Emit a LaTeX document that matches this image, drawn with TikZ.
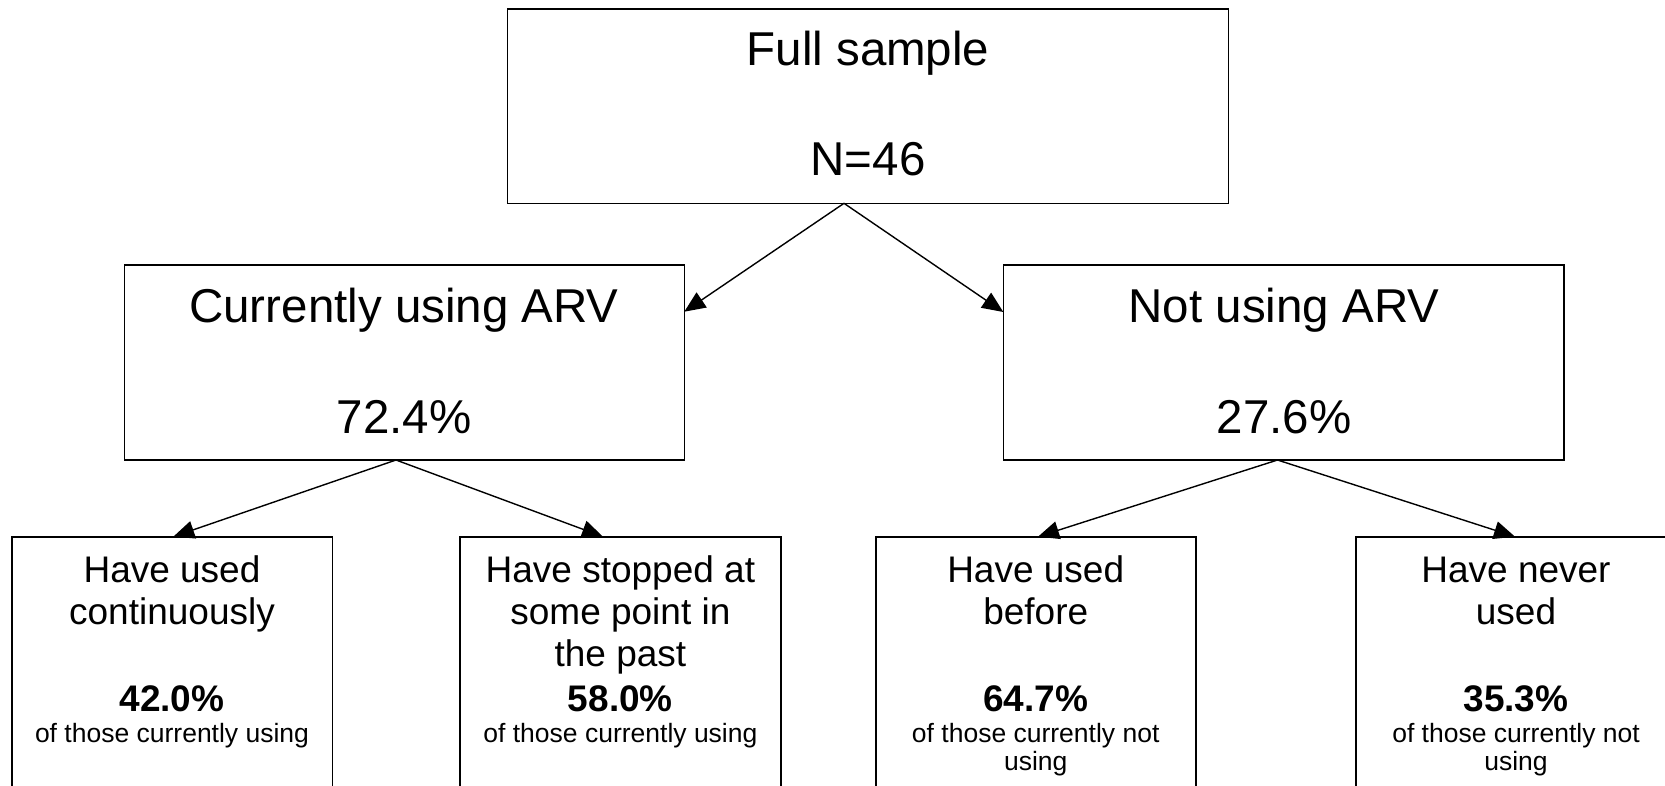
\documentclass[tikz,border=0pt]{standalone}
\usepackage{fontspec}
\setmainfont{Liberation Sans}
\usetikzlibrary{arrows.meta}

\tikzset{
  box/.style={draw=black, line width=1.6pt, fill=none, inner sep=0pt, rectangle},
  link/.style={line width=1.4pt, -{Triangle[length=21pt,width=18pt]}},
  bigtxt/.style={anchor=base, inner sep=0pt, font=\fontsize{47.5}{50}\selectfont},
  midtxt/.style={anchor=base, inner sep=0pt, font=\fontsize{37}{40}\selectfont},
  pcttxt/.style={anchor=base, inner sep=0pt, font=\fontsize{37}{40}\selectfont\bfseries},
  smalltxt/.style={anchor=base, inner sep=0pt, font=\fontsize{26.5}{28}\selectfont},
}

\begin{document}
\begin{tikzpicture}[x=1pt, y=-1pt]
\useasboundingbox (0,0) rectangle (1665,785);
\clip (0,0) rectangle (1665,785);

% ---- boxes ----
\node[box, minimum width=721pt, minimum height=194.3pt] (top) at (868.1,106.2) {};
\node[box, minimum width=560pt, minimum height=195pt] (cur) at (404.35,362.5) {};
\node[box, minimum width=560.7pt, minimum height=195pt] (not) at (1283.65,362.5) {};
\node[box, minimum width=320.6pt, minimum height=400pt] (cont) at (172,736.7) {};
\node[box, minimum width=320.7pt, minimum height=400pt] (stop) at (620.35,736.7) {};
\node[box, minimum width=320pt, minimum height=400pt] (before) at (1035.7,736.7) {};
\node[box, minimum width=320pt, minimum height=400pt] (never) at (1516,736.7) {};

% ---- text ----
\node[bigtxt] (t-full) at (868,65) {Full sample};
\node[bigtxt] (t-n) at (868,175) {N=46};

\node[bigtxt] (t-cur) at (404,322) {Currently using ARV};
\node[bigtxt] (t-curp) at (404,433) {72.4\%};
\node[bigtxt] (t-not) at (1284,322) {Not using ARV};
\node[bigtxt] (t-notp) at (1284,433) {27.6\%};

\node[midtxt] (c1) at (172,582.7) {Have used};
\node[midtxt] (c2) at (172,624.7) {continuously};
\node[pcttxt] (c3) at (172,711.7) {42.0\%};
\node[smalltxt] (c4) at (172,742) {of those currently using};

\node[midtxt] (s1) at (620.4,582.7) {Have stopped at};
\node[midtxt] (s2) at (620.4,624.7) {some point in};
\node[midtxt] (s3) at (620.4,666.7) {the past};
\node[pcttxt] (s4) at (620.4,711.7) {58.0\%};
\node[smalltxt] (s5) at (620.4,742) {of those currently using};

\node[midtxt] (b1) at (1035.7,582.7) {Have used};
\node[midtxt] (b2) at (1035.7,624.7) {before};
\node[pcttxt] (b3) at (1035.7,711.7) {64.7\%};
\node[smalltxt] (b4) at (1035.7,742) {of those currently not};
\node[smalltxt] (b5) at (1035.7,770.5) {using};

\node[midtxt] (n1) at (1516,582.7) {Have never};
\node[midtxt] (n2) at (1516,624.7) {used};
\node[pcttxt] (n3) at (1516,711.7) {35.3\%};
\node[smalltxt] (n4) at (1516,742) {of those currently not};
\node[smalltxt] (n5) at (1516,770.5) {using};

% ---- connector end points on the box borders ----
\coordinate (top-out) at (844,203.3);
\coordinate (cur-in) at (684.3,311.7);
\coordinate (not-in) at (1003.3,312);
\coordinate (cur-out) at (396,460);
\coordinate (not-out) at (1277.5,460);
\coordinate (cont-in) at (173.3,536.7);
\coordinate (stop-in) at (603,536.7);
\coordinate (before-in) at (1038,536.7);
\coordinate (never-in) at (1515,536.7);

% ---- connectors ----
\draw[link] (top-out) -- (cur-in);
\draw[link] (top-out) -- (not-in);
\draw[link] (cur-out) -- (cont-in);
\draw[link] (cur-out) -- (stop-in);
\draw[link] (not-out) -- (before-in);
\draw[link] (not-out) -- (never-in);
\end{tikzpicture}
\end{document}
